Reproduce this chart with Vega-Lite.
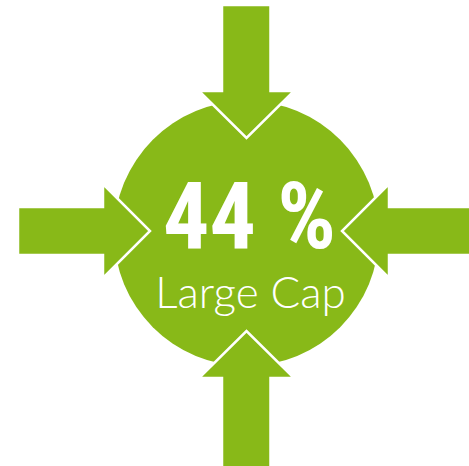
{
  "$schema": "https://vega.github.io/schema/vega-lite/v6.json",
  "width": 469,
  "height": 466,
  "padding": 0,
  "autosize": {"type": "none"},
  "config": {"view": {"stroke": null}},
  "datasets": {
    "disc": [{"x": 246.5, "y": 233.5}],
    "arrows": [
      {"arrow": "top", "o": 1, "x": 222, "y": 5},
      {"arrow": "top", "o": 2, "x": 270.5, "y": 5},
      {"arrow": "top", "o": 3, "x": 270.5, "y": 91},
      {"arrow": "top", "o": 4, "x": 294, "y": 91},
      {"arrow": "top", "o": 5, "x": 246.5, "y": 138},
      {"arrow": "top", "o": 6, "x": 199, "y": 91},
      {"arrow": "top", "o": 7, "x": 222, "y": 91},
      {"arrow": "top", "o": 8, "x": 222, "y": 5},
      {"arrow": "bottom", "o": 1, "x": 222, "y": 470},
      {"arrow": "bottom", "o": 2, "x": 270.5, "y": 470},
      {"arrow": "bottom", "o": 3, "x": 270.5, "y": 378},
      {"arrow": "bottom", "o": 4, "x": 294, "y": 378},
      {"arrow": "bottom", "o": 5, "x": 246.5, "y": 331},
      {"arrow": "bottom", "o": 6, "x": 199, "y": 378},
      {"arrow": "bottom", "o": 7, "x": 222, "y": 378},
      {"arrow": "bottom", "o": 8, "x": 222, "y": 470},
      {"arrow": "left", "o": 1, "x": 18, "y": 207},
      {"arrow": "left", "o": 2, "x": 103, "y": 207},
      {"arrow": "left", "o": 3, "x": 103, "y": 184},
      {"arrow": "left", "o": 4, "x": 150, "y": 231},
      {"arrow": "left", "o": 5, "x": 103, "y": 278},
      {"arrow": "left", "o": 6, "x": 103, "y": 255},
      {"arrow": "left", "o": 7, "x": 18, "y": 255},
      {"arrow": "left", "o": 8, "x": 18, "y": 207},
      {"arrow": "right", "o": 1, "x": 473, "y": 207},
      {"arrow": "right", "o": 2, "x": 389, "y": 207},
      {"arrow": "right", "o": 3, "x": 389, "y": 184},
      {"arrow": "right", "o": 4, "x": 342, "y": 231},
      {"arrow": "right", "o": 5, "x": 389, "y": 278},
      {"arrow": "right", "o": 6, "x": 389, "y": 255},
      {"arrow": "right", "o": 7, "x": 473, "y": 255},
      {"arrow": "right", "o": 8, "x": 473, "y": 207}
    ],
    "labels": [
      {"kind": "value", "x": 249.5, "y": 248, "text": "44 %"},
      {"kind": "name", "x": 250.5, "y": 308, "text": "Large Cap"}
    ]
  },
  "encoding": {
    "x": {"field": "x", "type": "quantitative", "scale": {"domain": [0, 469], "nice": false, "zero": false}, "axis": null},
    "y": {"field": "y", "type": "quantitative", "scale": {"domain": [0, 466], "nice": false, "zero": false, "reverse": true}, "axis": null}
  },
  "layer": [
    {
      "data": {"name": "disc"},
      "mark": {"type": "point", "shape": "circle", "filled": true, "size": 70225, "color": "#88B918", "opacity": 1, "strokeWidth": 0}
    },
    {
      "data": {"name": "arrows"},
      "mark": {"type": "line", "fill": "#88B918", "stroke": "#ffffff", "strokeWidth": 2.5, "strokeJoin": "miter", "interpolate": "linear"},
      "encoding": {
        "detail": {"field": "arrow", "type": "nominal"},
        "order": {"field": "o", "type": "quantitative"}
      }
    },
    {
      "data": {"name": "labels"},
      "transform": [{"filter": "datum.kind === 'value'"}],
      "mark": {"type": "text", "font": "Roboto Condensed", "fontWeight": "bold", "fontSize": 92, "color": "#ffffff", "align": "center", "baseline": "alphabetic"},
      "encoding": {"text": {"field": "text"}}
    },
    {
      "data": {"name": "labels"},
      "transform": [{"filter": "datum.kind === 'name'"}],
      "mark": {"type": "text", "font": "Lato", "fontWeight": 300, "fontSize": 44, "color": "#ffffff", "align": "center", "baseline": "alphabetic"},
      "encoding": {"text": {"field": "text"}}
    }
  ]
}
